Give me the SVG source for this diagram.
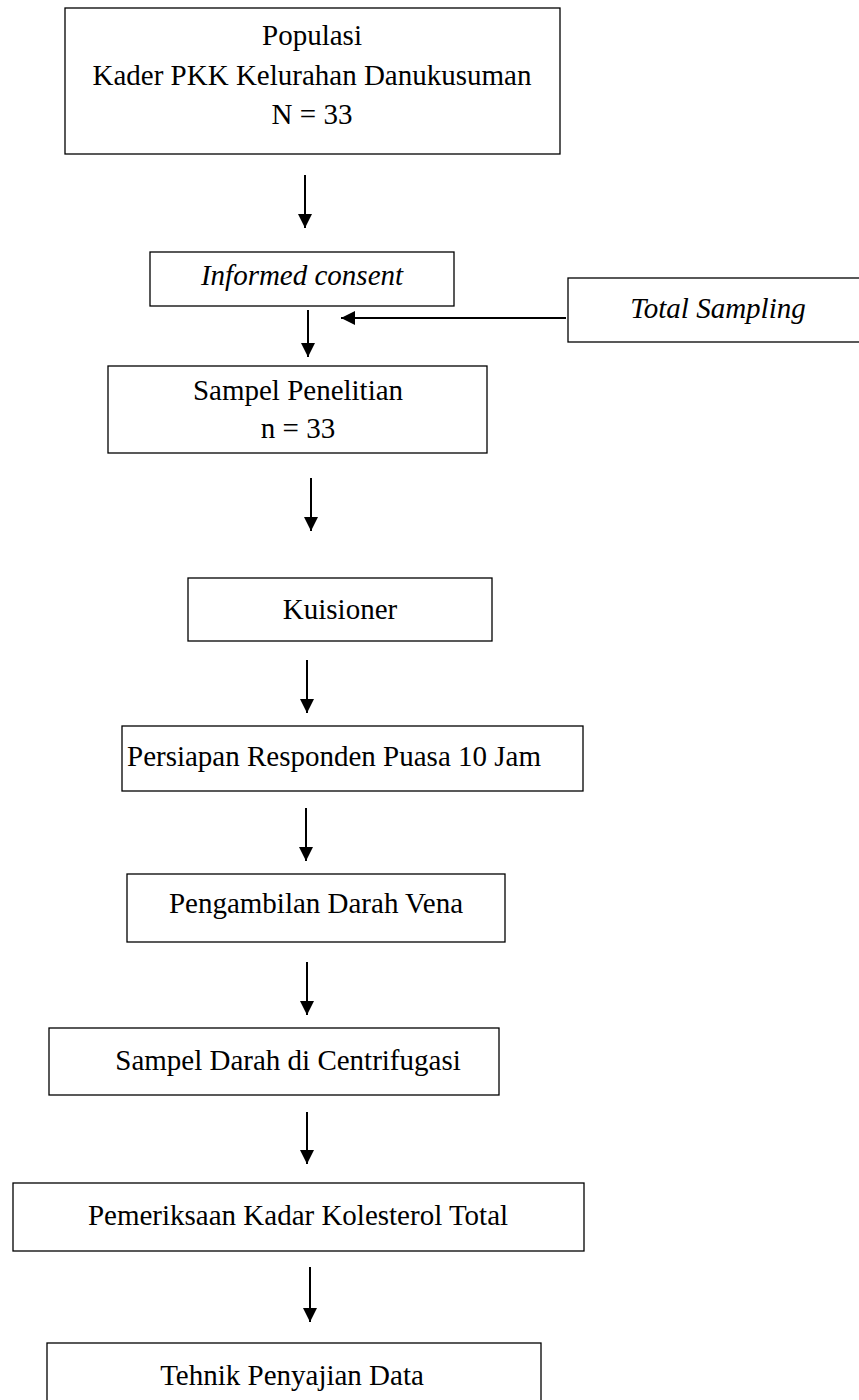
<svg xmlns="http://www.w3.org/2000/svg" width="859" height="1400" viewBox="0 0 859 1400">
<style>
.box{fill:#fff;stroke:#000;stroke-width:1.3}
.t{font-family:"Liberation Serif","Times New Roman",serif;font-size:29px;fill:#000;text-anchor:middle}
.i{font-style:italic}
.c{stroke:#000;stroke-width:2;fill:none}
</style>
<defs>
<marker id="ah" viewBox="0 0 10 10" refX="10" refY="5" markerWidth="8" markerHeight="7" markerUnits="strokeWidth" orient="auto">
<path d="M0,0 L10,5 L0,10 z" fill="#000"/>
</marker>
</defs>
<rect width="859" height="1400" fill="#fff"/>
<g id="n1"><rect class="box" x="65" y="8" width="495" height="146"/>
<text class="t" x="312" y="45">Populasi</text>
<text class="t" x="312" y="85">Kader PKK Kelurahan Danukusuman</text>
<text class="t" x="312" y="124">N = 33</text></g>
<g id="n2"><rect class="box" x="150" y="252" width="304" height="54"/>
<text class="t i" x="302" y="285">Informed consent</text></g>
<g id="n3"><rect class="box" x="568" y="278" width="295" height="64"/>
<text class="t i" x="718" y="318">Total Sampling</text></g>
<g id="n4"><rect class="box" x="108" y="366" width="379" height="87"/>
<text class="t" x="298" y="400">Sampel Penelitian</text>
<text class="t" x="298" y="438">n = 33</text></g>
<g id="n5"><rect class="box" x="188" y="578" width="304" height="63"/>
<text class="t" x="340" y="619">Kuisioner</text></g>
<g id="n6"><rect class="box" x="122" y="726" width="461" height="65"/>
<text class="t" x="334" y="766">Persiapan Responden Puasa 10 Jam</text></g>
<g id="n7"><rect class="box" x="127" y="874" width="378" height="68"/>
<text class="t" x="316" y="913">Pengambilan Darah Vena</text></g>
<g id="n8"><rect class="box" x="49" y="1028" width="450" height="67"/>
<text class="t" x="288" y="1070">Sampel Darah di Centrifugasi</text></g>
<g id="n9"><rect class="box" x="13" y="1183" width="571" height="68"/>
<text class="t" x="298" y="1225">Pemeriksaan Kadar Kolesterol Total</text></g>
<g id="n10"><rect class="box" x="47" y="1343" width="494" height="70"/>
<text class="t" x="292" y="1385">Tehnik Penyajian Data</text></g>
<g id="connectors">
<line class="c" x1="305" y1="175" x2="305" y2="228" marker-end="url(#ah)"/>
<line class="c" x1="308" y1="310" x2="308" y2="357" marker-end="url(#ah)"/>
<line class="c" x1="566" y1="318" x2="341" y2="318" marker-end="url(#ah)"/>
<line class="c" x1="311" y1="478" x2="311" y2="531" marker-end="url(#ah)"/>
<line class="c" x1="307" y1="660" x2="307" y2="713" marker-end="url(#ah)"/>
<line class="c" x1="306" y1="808" x2="306" y2="861" marker-end="url(#ah)"/>
<line class="c" x1="307" y1="962" x2="307" y2="1015" marker-end="url(#ah)"/>
<line class="c" x1="307" y1="1112" x2="307" y2="1164" marker-end="url(#ah)"/>
<line class="c" x1="310" y1="1267" x2="310" y2="1322" marker-end="url(#ah)"/>
</g>
</svg>
